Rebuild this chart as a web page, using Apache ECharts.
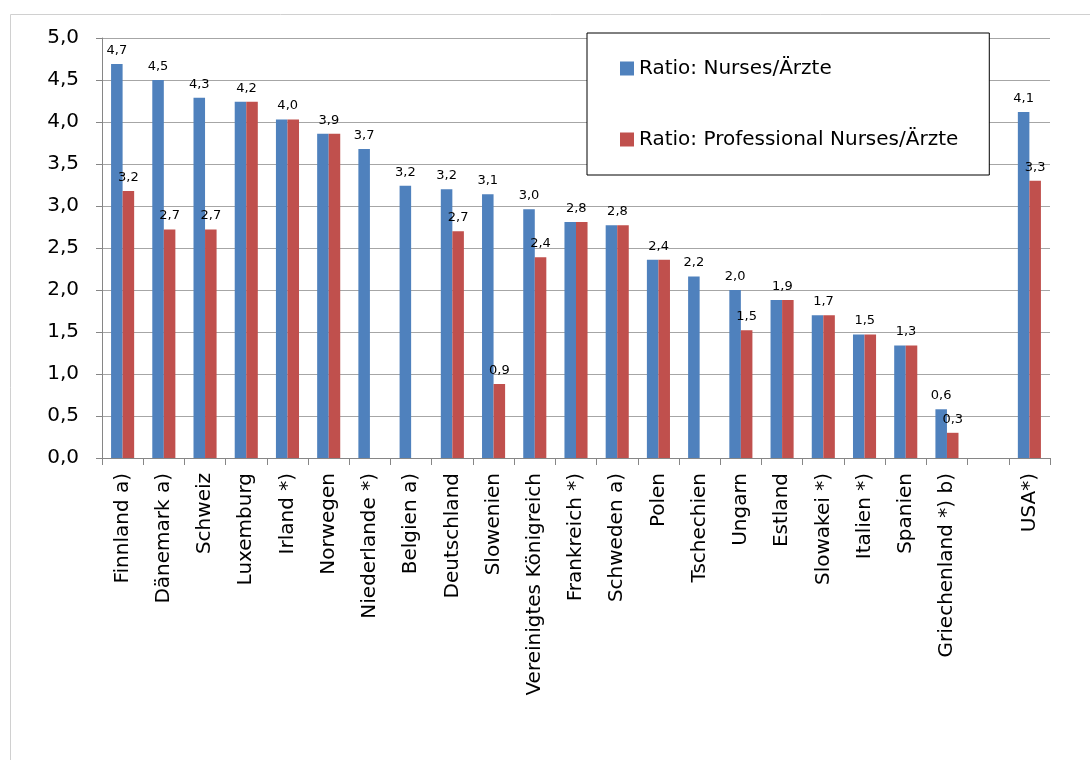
<!DOCTYPE html>
<html>
<head>
<meta charset="utf-8">
<script src="https://cdn.jsdelivr.net/npm/echarts@6/dist/echarts.min.js"></script>
<style>html,body{margin:0;padding:0;background:#fff;}#c{width:1090px;height:760px;}</style>
</head>
<body>
<div id="c"></div>
<script>
const categories = ['Finnland a)', 'Dänemark a)', 'Schweiz', 'Luxemburg', 'Irland *)', 'Norwegen', 'Niederlande *)', 'Belgien a)', 'Deutschland', 'Slowenien', 'Vereinigtes Königreich', 'Frankreich *)', 'Schweden a)', 'Polen', 'Tschechien', 'Ungarn', 'Estland', 'Slowakei *)', 'Italien *)', 'Spanien', 'Griechenland *) b)', '', 'USA*)'];
const nursesRatio = [4.69, 4.50, 4.29, 4.24, 4.03, 3.86, 3.68, 3.24, 3.20, 3.14, 2.96, 2.81, 2.77, 2.36, 2.16, 2.00, 1.88, 1.70, 1.47, 1.34, 0.58, null, 4.12];
const professionalRatio = [3.18, 2.72, 2.72, 4.24, 4.03, 3.86, null, null, 2.70, 0.88, 2.39, 2.81, 2.77, 2.36, null, 1.52, 1.88, 1.70, 1.47, 1.34, 0.30, null, 3.30];
const yTicks = [0, 0.5, 1, 1.5, 2, 2.5, 3, 3.5, 4, 4.5, 5];
const seriesNames = ['Ratio: Nurses/Ärzte', 'Ratio: Professional Nurses/Ärzte'];

const FONT = 'DejaVu Sans';
const fmt = v => v.toFixed(1).replace('.', ',');

const blueData = nursesRatio.map((v, i) => {
  if (v == null) return null;
  const same = professionalRatio[i] != null && professionalRatio[i] === v;
  return { value: v, label: { offset: same ? [6, 0] : [0, 0] } };
});
const redData = professionalRatio.map((v, i) => {
  if (v == null) return null;
  const same = nursesRatio[i] === v;
  return { value: v, label: { show: !same } };
});

const chart = echarts.init(document.getElementById('c'), null, { renderer: 'canvas' });
chart.setOption({
  animation: false,
  backgroundColor: '#fff',
  graphic: [{
    type: 'rect', left: 8, top: 12, z: -10,
    shape: { width: 1200, height: 900 },
    style: { fill: 'none', stroke: '#d0d0d0', lineWidth: 1 }
  }],
  grid: { left: 102, right: 40, top: 38, bottom: 302, containLabel: false },
  legend: {
    orient: 'vertical',
    left: 587, top: 33,
    padding: [24, 31, 24, 33],
    itemWidth: 14, itemHeight: 14, itemGap: 48,
    itemTextGap: 6,
    borderColor: '#000', borderWidth: 1, backgroundColor: '#fff',
    icon: 'rect',
    textStyle: { fontFamily: FONT, fontSize: 20, color: '#000', lineHeight: 23 },
    data: seriesNames
  },
  xAxis: {
    type: 'category',
    data: categories,
    axisLine: { lineStyle: { color: '#868686', width: 1 } },
    axisTick: { show: true, length: 7, lineStyle: { color: '#868686' } },
    axisLabel: { interval: 0, rotate: 90, margin: 15, fontFamily: FONT, fontSize: 20, color: '#000' }
  },
  yAxis: {
    type: 'value', min: 0, max: 5, interval: 0.5,
    axisLine: { show: true, lineStyle: { color: '#868686', width: 1 } },
    axisTick: { show: true, length: 6, lineStyle: { color: '#868686' } },
    splitLine: { show: true, lineStyle: { color: '#a6a6a6', width: 1 } },
    axisLabel: {
      margin: 23, fontFamily: FONT, fontSize: 20, color: '#000',
      formatter: v => yTicks.indexOf(v) >= 0 ? fmt(v) : ''
    }
  },
  series: [{
    name: seriesNames[0], type: 'bar', data: blueData,
    barWidth: '28%', barGap: '0%',
    itemStyle: { color: '#4f81bd' },
    label: { show: true, position: 'top', distance: 7, fontFamily: FONT, fontSize: 13, color: '#000', formatter: p => fmt(p.value) }
  }, {
    name: seriesNames[1], type: 'bar', data: redData,
    barWidth: '28%', barGap: '0%',
    itemStyle: { color: '#c0504d' },
    label: { show: true, position: 'top', distance: 7, fontFamily: FONT, fontSize: 13, color: '#000', formatter: p => fmt(p.value) }
  }]
});
</script>
</body>
</html>
